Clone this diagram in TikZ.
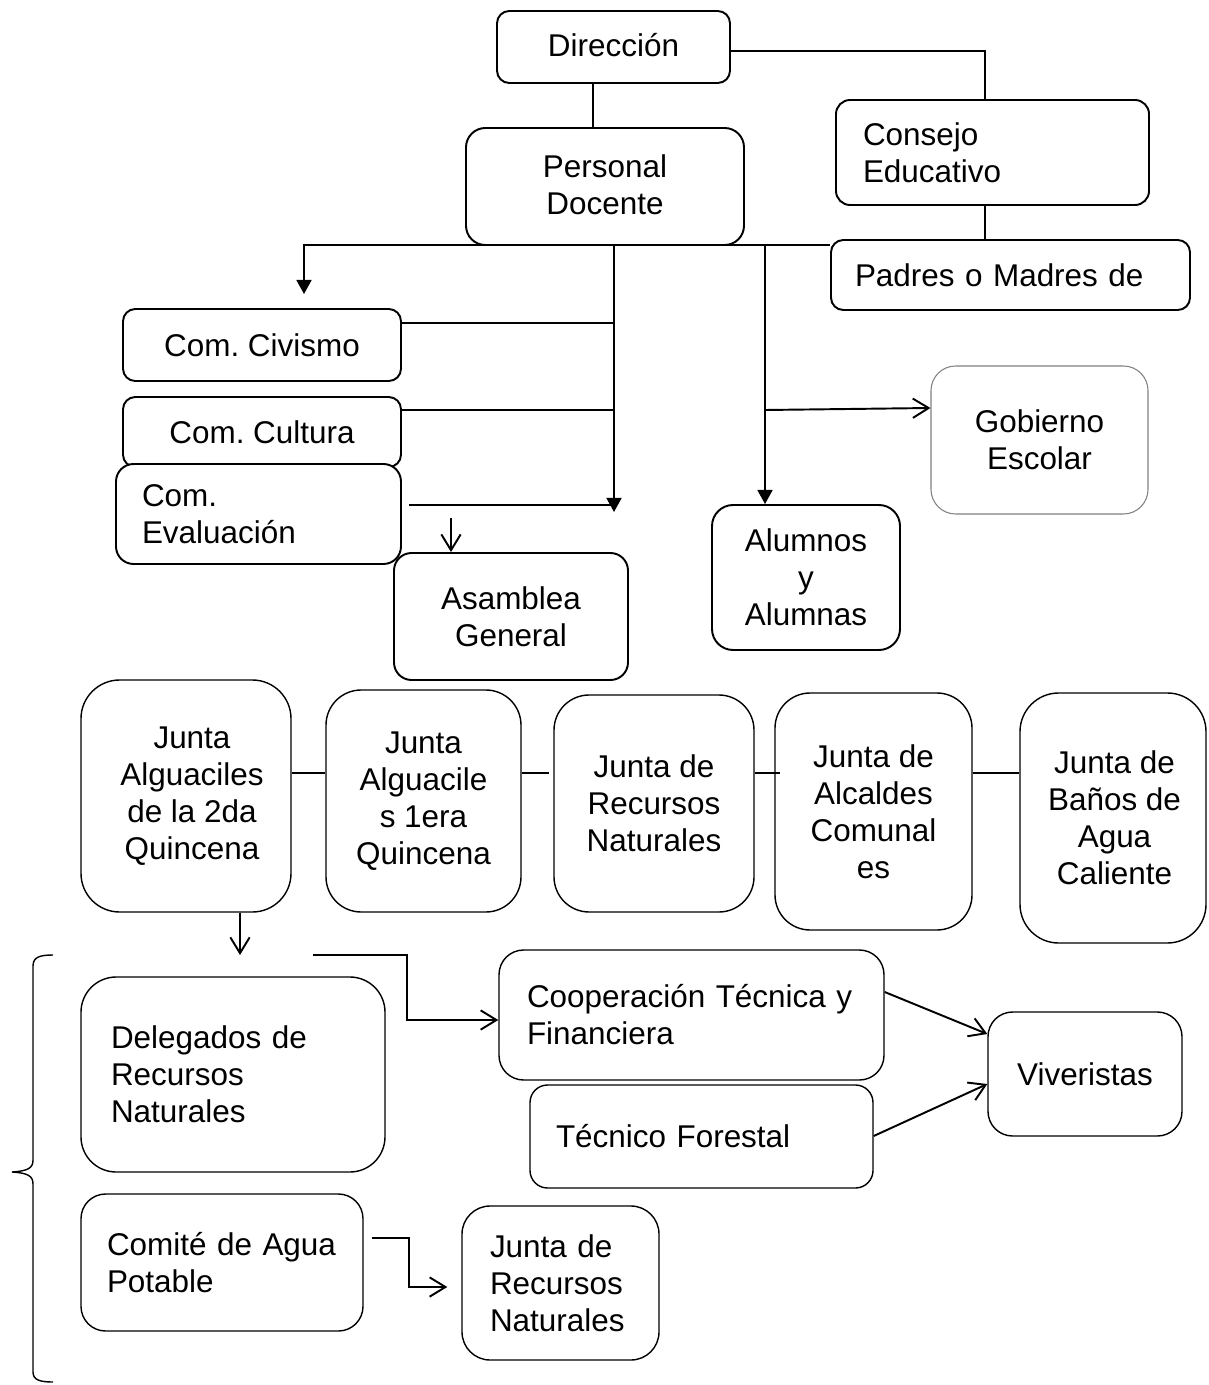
\documentclass[tikz,border=0pt]{standalone}
\usepackage{fontspec}
\setmainfont{Liberation Sans}
\usetikzlibrary{arrows.meta}
\frenchspacing
\newcommand\myfs{\fontsize{17.9pt}{21pt}\selectfont}
\begin{document}
\begin{tikzpicture}[x=0.02cm,y=-0.02cm,
  box/.style={draw, line width=1.1pt, rounded corners=#1, inner sep=0pt, font=\myfs, align=center},
  box/.default=12,
  sz/.style 2 args={minimum width=#1*0.02cm, minimum height=#2*0.02cm},
  lft/.style 2 args={text width=#1*0.02cm, inner xsep=#2*0.02cm, align=left},
  ln/.style={line width=1.1pt},
  fa/.style={ln, -{Triangle[length=8pt,width=8.5pt]}},
  oa/.style={ln, -{Straight Barb[length=9pt,width=11pt,line width=1.1pt]}},
]
\useasboundingbox (0,0) rectangle (1208,1385);

% top part
\node[box=7pt, sz={233}{72}] (dir) at (613.5,47) {\raisebox{2pt}{Dirección}};
\node[box=11pt, sz={278}{117}] (pd) at (605,186.5) {\raisebox{2pt}{Personal}\\\raisebox{2pt}{Docente}};
\node[box=8pt, sz={313}{105}, lft={259}{27}] (ce) at (992.5,152.5) {Consejo\\Educativo};
\node[box=7pt, sz={359}{70}, lft={311}{24}] (pm) at (1010.5,275) {Padres o Madres de};
\node[box=7pt, sz={278}{72}] (civ) at (262,345) {Com. Civismo};
\node[box=7pt, sz={278}{70}] (cul) at (262,432) {Com. Cultura};
\node[box=10pt, sz={285}{100}, lft={233}{26}, fill=white] (eva) at (258.5,514) {Com.\\Evaluación};
\node[box=10pt, sz={234}{127}] (asa) at (511,616.5) {Asamblea\\General};
\node[box=14pt, sz={217}{148}, draw=gray, line width=0.6pt] (gob) at (1039.5,440) {Gobierno\\Escolar};
\node[box=12pt, sz={188}{145}] (alu) at (806,577.5) {Alumnos\\y\\Alumnas};

% junta row
\node[box=22pt, sz={210}{232}, line width=0.8pt] (j1) at (186,796) {\hspace*{0.24cm}Junta\\\hspace*{0.24cm}Alguaciles\\\hspace*{0.24cm}de la 2da\\\hspace*{0.24cm}Quincena};
\node[box=20pt, sz={195}{222}, line width=0.8pt] (j2) at (423.5,801) {Junta\\Alguacile\\s 1era\\Quincena};
\node[box=20pt, sz={200}{217}, line width=0.8pt] (j3) at (654,803.5) {Junta de\\Recursos\\Naturales};
\node[box=20pt, sz={197}{237}, line width=0.8pt] (j4) at (873.5,811.5) {Junta de\\Alcaldes\\Comunal\\es};
\node[box=22pt, sz={186}{250}, line width=0.8pt] (j5) at (1113,818) {\hspace*{0.06cm}Junta de\\\hspace*{0.06cm}Baños de\\\hspace*{0.06cm}Agua\\\hspace*{0.06cm}Caliente};

% bottom part
\node[box=20pt, sz={304}{195}, lft={244}{30}, line width=0.8pt] (del) at (233,1074.5) {Delegados de\\Recursos\\Naturales};
\node[box=14pt, sz={385}{130}, lft={329}{28}, line width=0.8pt] (coop) at (691.5,1015) {Cooperación Técnica y\\Financiera};
\node[box=10pt, sz={343}{103}, lft={291}{26}, line width=0.8pt] (tec) at (701.5,1136.5) {Técnico Forestal};
\node[box=14pt, sz={194}{124}, line width=0.8pt] (viv) at (1085,1074) {Viveristas};
\node[box=14pt, sz={282}{137}, lft={230}{26}, line width=0.8pt] (com) at (222,1262.5) {Comité de Agua\\Potable};
\node[box=16pt, sz={197}{154}, lft={141}{28}, line width=0.8pt] (jrn) at (560.5,1283) {Junta de\\Recursos\\Naturales};

% connectors top
\draw[line width=0.9pt] (dir.south -| 593,0) -- (pd.north -| 593,0);
\draw[line width=0.9pt] (dir.east |- 0,51) -- (985,51) -- (ce.north -| 985,0);
\draw[line width=0.9pt] (ce.south -| 985,0) -- (pm.north -| 985,0);
\draw[fa, shorten >=0.28cm] (pm.west |- 0,245) -- (304,245) -- (civ.north -| 304,0);
\coordinate (e1) at (614,512);
\draw[fa] (pd.south -| 614,0) -- (e1);
\draw[ln, line width=0.9pt] (civ.east |- 0,323) -- (614,323);
\draw[ln, line width=0.9pt] (cul.east |- 0,410) -- (614,410);
\draw[ln] ([xshift=0.14cm]eva.east |- 0,505) -- (e1 |- 0,505);
\draw[oa] (451,518) -- (asa.north -| 451,0);
\draw[fa] (pd.south -| 765,0) -- (alu.north -| 765,0);
\draw[oa] (765,410) -- (gob.west |- 0,408);

% junta connectors
\draw[ln] (j1.east |- 0,773) -- (j2.west |- 0,773);
\draw[ln] (j2.east |- 0,773) -- ([xshift=-0.08cm]j3.west |- 0,773);
\draw[ln] (j3.east |- 0,773) -- ([xshift=0.12cm]j4.west |- 0,773);
\draw[ln] (j4.east |- 0,773) -- (j5.west |- 0,773);
\coordinate (e2) at (240,955);
\draw[oa] (j1.south -| 240,0) -- (e2);

% brace
\draw[line width=0.8pt] (53,955) .. controls (40,955) and (33,957) .. (33,966) -- (33,1160)
  .. controls (33,1168) and (28,1171) .. (12,1172)
  .. controls (28,1173) and (33,1176) .. (33,1184) -- (33,1372)
  .. controls (33,1380) and (40,1382) .. (53,1382);

% connectors bottom
\coordinate (s1) at (313,955);
\draw[oa] (s1) -- (407,955) -- (407,1020) -- (coop.west |- 0,1020);
\draw[oa] (coop.east |- 0,992) -- (viv.west |- 0,1034);
\draw[oa] (tec.east |- 0,1136) -- (viv.west |- 0,1084);
\draw[oa, shorten >=0.28cm] ([xshift=0.16cm]com.east |- 0,1238) -- (409,1238) -- (409,1287) -- (jrn.west |- 0,1287);
\end{tikzpicture}
\end{document}
